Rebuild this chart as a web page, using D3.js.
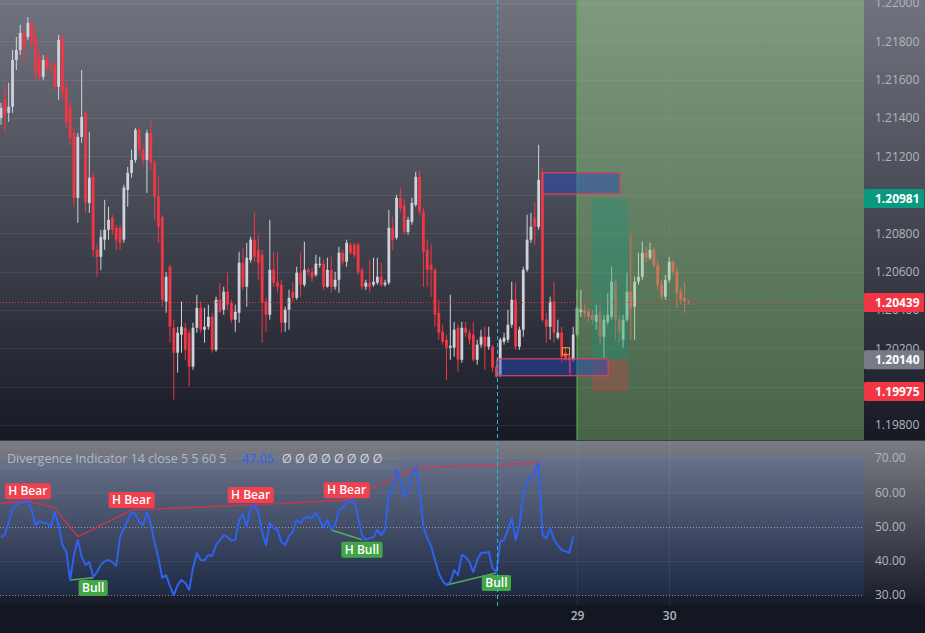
<!DOCTYPE html>
<html><head><meta charset="utf-8">
<script src="https://cdn.jsdelivr.net/npm/d3@7/dist/d3.min.js"></script>
<style>html,body{margin:0;padding:0;background:#131722;overflow:hidden}svg{display:block}</style>
</head><body><svg id="c" width="925" height="633"></svg>
<script>
// ---------- DATA ----------
const candleOpen=[1.21401,1.21495,1.21427,1.21459,1.21703,1.21755,1.21844,1.21823,1.21896,1.21823,1.21719,1.21615,1.21714,1.21667,1.21677,1.21563,1.21823,1.21558,1.21459,1.21323,1.20984,1.21302,1.21427,1.20958,1.21094,1.20713,1.20677,1.20766,1.20818,1.20880,1.20828,1.20828,1.20766,1.21026,1.21115,1.21182,1.21339,1.21235,1.21182,1.21323,1.21167,1.20990,1.20885,1.20443,1.20625,1.20307,1.20177,1.20271,1.20307,1.20281,1.20104,1.20307,1.20411,1.20297,1.20312,1.20364,1.20192,1.20453,1.20401,1.20495,1.20437,1.20349,1.20385,1.20646,1.20521,1.20661,1.20766,1.20713,1.20687,1.20443,1.20375,1.20609,1.20542,1.20531,1.20333,1.20401,1.20495,1.20463,1.20594,1.20531,1.20609,1.20599,1.20583,1.20635,1.20641,1.20521,1.20609,1.20521,1.20557,1.20698,1.20651,1.20740,1.20740,1.20740,1.20609,1.20521,1.20542,1.20531,1.20542,1.20573,1.20531,1.20542,1.20828,1.20776,1.20984,1.20948,1.20807,1.20859,1.20948,1.21094,1.20911,1.20713,1.20635,1.20609,1.20385,1.20286,1.20245,1.20203,1.20203,1.20307,1.20140,1.20307,1.20281,1.20271,1.20140,1.20219,1.20260,1.20208,1.20208,1.20104,1.20062,1.20234,1.20245,1.20323,1.20453,1.20208,1.20297,1.20609,1.20766,1.20880,1.20833,1.21115,1.20349,1.20312,1.20443,1.20255,1.20281,1.20177,1.20156,1.20140,1.20271,1.20390,1.20401,1.20390,1.20375,1.20338,1.20385,1.20260,1.20338,1.20364,1.20547,1.20349,1.20245,1.20349,1.20495,1.20417,1.20547,1.20573,1.20698,1.20672,1.20713,1.20635,1.20531,1.20469,1.20557,1.20651,1.20599,1.20495,1.20463,1.20443];
const candleHigh=[1.21479,1.21573,1.21584,1.21755,1.21823,1.21886,1.21860,1.21927,1.21912,1.21860,1.21755,1.21729,1.21729,1.21693,1.21693,1.21834,1.21834,1.21589,1.21495,1.21349,1.21323,1.21651,1.21443,1.21328,1.21120,1.20740,1.20818,1.20974,1.20938,1.20896,1.20844,1.20844,1.21052,1.21146,1.21235,1.21349,1.21354,1.21261,1.21339,1.21391,1.21182,1.21094,1.20896,1.20599,1.20635,1.20349,1.20312,1.20443,1.20333,1.20297,1.20333,1.20479,1.20443,1.20411,1.20427,1.20385,1.20469,1.20542,1.20521,1.20594,1.20453,1.20427,1.20703,1.20724,1.20750,1.20781,1.20906,1.20792,1.20713,1.20463,1.20870,1.20703,1.20698,1.20557,1.20417,1.20505,1.20542,1.20625,1.20698,1.20755,1.20620,1.20620,1.20687,1.20677,1.20661,1.20672,1.20677,1.20599,1.20729,1.20713,1.20766,1.20750,1.20750,1.20750,1.20620,1.20557,1.20661,1.20672,1.20672,1.20646,1.20557,1.20922,1.20885,1.21000,1.21037,1.20974,1.20885,1.20984,1.21120,1.21130,1.20932,1.20766,1.20740,1.20620,1.20453,1.20323,1.20271,1.20479,1.20338,1.20323,1.20338,1.20338,1.20297,1.20338,1.20245,1.20297,1.20312,1.20312,1.20219,1.20140,1.20255,1.20281,1.20401,1.20547,1.20542,1.20312,1.20625,1.20896,1.20906,1.20964,1.21261,1.21141,1.20385,1.20469,1.20547,1.20349,1.20312,1.20203,1.20166,1.20312,1.20505,1.20505,1.20427,1.20411,1.20401,1.20427,1.20427,1.20375,1.20489,1.20625,1.20557,1.20375,1.20375,1.20594,1.20792,1.20573,1.20698,1.20755,1.20729,1.20750,1.20729,1.20661,1.20557,1.20583,1.20677,1.20661,1.20620,1.20516,1.20542,1.20453];
const candleLow=[1.21365,1.21323,1.21380,1.21427,1.21651,1.21729,1.21688,1.21808,1.21755,1.21599,1.21599,1.21599,1.21641,1.21641,1.21547,1.21495,1.21495,1.21349,1.21261,1.20938,1.20854,1.21271,1.20906,1.20906,1.20677,1.20573,1.20609,1.20713,1.20766,1.20792,1.20713,1.20713,1.20750,1.20938,1.21089,1.21167,1.21208,1.21156,1.21010,1.21130,1.20870,1.20750,1.20417,1.20385,1.20229,1.19932,1.20073,1.20177,1.20140,1.20000,1.20088,1.20281,1.20281,1.20229,1.20297,1.20177,1.20182,1.20385,1.20375,1.20401,1.20333,1.20286,1.20333,1.20505,1.20417,1.20646,1.20651,1.20557,1.20229,1.20286,1.20349,1.20521,1.20489,1.20281,1.20286,1.20297,1.20443,1.20453,1.20469,1.20521,1.20578,1.20547,1.20573,1.20620,1.20505,1.20516,1.20489,1.20505,1.20489,1.20635,1.20625,1.20687,1.20672,1.20583,1.20505,1.20505,1.20495,1.20521,1.20531,1.20521,1.20521,1.20531,1.20713,1.20766,1.20911,1.20792,1.20792,1.20844,1.20938,1.20896,1.20521,1.20521,1.20469,1.20312,1.20245,1.20219,1.20036,1.20140,1.20156,1.20078,1.20125,1.20260,1.20219,1.20130,1.20114,1.20203,1.20088,1.20192,1.20078,1.20047,1.20052,1.20219,1.20229,1.20307,1.20192,1.20192,1.20260,1.20599,1.20750,1.20740,1.20818,1.20338,1.20229,1.20245,1.20229,1.20245,1.20125,1.20130,1.20073,1.20130,1.20260,1.20364,1.20359,1.20338,1.20323,1.20297,1.20219,1.20151,1.20323,1.20349,1.20245,1.20229,1.20203,1.20338,1.20245,1.20245,1.20531,1.20557,1.20646,1.20661,1.20620,1.20505,1.20453,1.20453,1.20542,1.20583,1.20411,1.20427,1.20385,1.20427];
const candleClose=[1.21453,1.21417,1.21459,1.21703,1.21755,1.21844,1.21771,1.21896,1.21792,1.21636,1.21615,1.21703,1.21662,1.21666,1.21563,1.21808,1.21531,1.21380,1.21297,1.20984,1.21302,1.21406,1.20958,1.21089,1.20713,1.20677,1.20781,1.20818,1.20870,1.20818,1.20766,1.20750,1.21037,1.21115,1.21182,1.21339,1.21235,1.21182,1.21323,1.21167,1.20990,1.20833,1.20453,1.20573,1.20312,1.20177,1.20281,1.20312,1.20192,1.20104,1.20307,1.20411,1.20297,1.20312,1.20364,1.20192,1.20453,1.20390,1.20495,1.20427,1.20349,1.20390,1.20646,1.20521,1.20672,1.20766,1.20677,1.20646,1.20437,1.20375,1.20609,1.20542,1.20521,1.20333,1.20401,1.20463,1.20463,1.20594,1.20531,1.20609,1.20599,1.20568,1.20641,1.20641,1.20521,1.20609,1.20521,1.20557,1.20698,1.20651,1.20750,1.20698,1.20687,1.20599,1.20521,1.20542,1.20521,1.20547,1.20573,1.20531,1.20542,1.20828,1.20766,1.20984,1.20932,1.20807,1.20870,1.20958,1.21094,1.20911,1.20703,1.20609,1.20609,1.20375,1.20281,1.20234,1.20203,1.20213,1.20297,1.20140,1.20307,1.20281,1.20245,1.20140,1.20219,1.20260,1.20208,1.20260,1.20099,1.20052,1.20245,1.20255,1.20323,1.20453,1.20208,1.20297,1.20609,1.20766,1.20833,1.20833,1.21078,1.20349,1.20312,1.20443,1.20281,1.20281,1.20156,1.20140,1.20140,1.20271,1.20411,1.20401,1.20385,1.20364,1.20349,1.20375,1.20260,1.20349,1.20375,1.20547,1.20349,1.20286,1.20349,1.20495,1.20411,1.20547,1.20573,1.20698,1.20672,1.20713,1.20635,1.20531,1.20469,1.20557,1.20651,1.20599,1.20489,1.20453,1.20443,1.20439];
const rsiValues=[46.9,47.5,51.3,55.1,56.3,56.9,56.9,57.7,54.8,50.4,51.6,51.0,51.0,49.9,54.2,50.4,44.6,42.6,34.4,41.7,46.1,41.1,38.8,39.6,35.3,36.7,38.8,39.9,40.2,39.6,38.5,46.9,49.6,51.9,54.2,53.6,51.3,50.4,54.2,50.7,45.2,40.8,35.0,35.8,32.6,30.0,32.9,34.4,33.5,31.5,37.9,42.3,40.2,40.2,41.7,41.4,44.6,46.1,47.5,46.9,45.8,46.1,51.9,53.6,49.9,55.7,56.0,54.2,48.4,44.6,51.0,49.6,49.0,45.5,44.6,47.2,48.4,51.9,51.0,52.5,52.8,52.5,53.9,51.9,49.6,51.9,49.0,50.4,54.8,55.4,57.4,57.2,57.7,52.5,47.5,46.1,46.6,46.9,49.0,47.5,49.0,59.2,60.9,66.5,63.6,58.6,60.7,65.0,67.1,60.7,49.9,46.6,44.3,40.2,36.4,34.1,32.9,33.8,37.3,35.8,41.7,41.1,39.6,36.7,40.2,42.3,42.3,42.6,37.9,36.7,45.5,46.1,49.0,52.5,46.1,50.4,59.8,62.7,64.5,65.9,68.5,47.5,46.6,49.6,46.1,44.6,43.1,42.8,42.3,47.05];
const priceTicks=[1.198,1.200,1.202,1.204,1.206,1.208,1.210,1.212,1.214,1.216,1.218,1.220];
const rsiTicks=[30,40,50,60,70];
const rsiDotted=[50,30];
const timeTickIndex=[150,174];
const timeTickLabels=["29","30"];
const bearPivots=[[-3,56.6],[7,57.4],[14,55.4],[20,47.0],[34,54.8],[65,56.3],[90,57.7],[108,67.1],[140,68.5]];
const bullLines=[[[18,34.4],[24,35.0]],[[86,49.0],[94,46.1]],[[116,32.9],[129,36.4]]];
const divLabels=[{i:7,v:57.4,t:"H Bear",k:"bear"},{i:34,v:54.8,t:"H Bear",k:"bear"},{i:65,v:56.3,t:"H Bear",k:"bear"},{i:90,v:57.7,t:"H Bear",k:"bear"},{i:24,v:35.0,t:"Bull",k:"bull"},{i:94,v:46.1,t:"H Bull",k:"bull"},{i:129,v:36.4,t:"Bull",k:"bull"}];
const orderBlocks=[{from:141.1,to:161.2,top:1.21115,bottom:1.21005},{from:129.2,to:158.1,top:1.20145,bottom:1.20057,split:148.2}];
const positionTool={from:153.9,to:163.3,target:1.20981,entry:1.20140,stop:1.19975};
const zoneStartIndex=150;
const cursorIndex=129.2;
const lastPrice=1.20439;
const priceMarkers=[1.20981,1.20439,1.20140,1.19975];
const markerKinds=["tp","last","entry","sl"];
const legendTitle="Divergence Indicator 14 close 5 5 60 5";
const legendValue="47.05";
const legendEmpty="Ø Ø Ø Ø Ø Ø Ø Ø";

// ---------- STYLE / LAYOUT ----------
const W=925,H=633,plotR=864,mainBot=440,indTop=441,indBot=605;
const C={up:"#cfd2da",down:"#f23645",tp:"#089981",last:"#f23645",entry:"#787b86",sl:"#f23645",axisText:"#b2b5be",rsi:"#2f62f0"};
const FONT="'Open Sans','Noto Sans',Roboto,sans-serif";

const svg=d3.select("#c");
const defs=svg.append("defs");
function grad(id,y1,y2,stops){const g=defs.append("linearGradient").attr("id",id).attr("gradientUnits","userSpaceOnUse").attr("x1",0).attr("x2",0).attr("y1",y1).attr("y2",y2);stops.forEach(s=>g.append("stop").attr("offset",s[0]).attr("stop-color",s[1]));}
grad("gMain",0,mainBot,[[0,"#71747e"],[1,"#171a24"]]);
grad("gInd",indTop,indBot,[[0,"#7a7c84"],[1,"#181c28"]]);
defs.append("clipPath").attr("id","clipMain").append("rect").attr("x",0).attr("y",0).attr("width",plotR).attr("height",mainBot);
defs.append("clipPath").attr("id","clipInd").append("rect").attr("x",0).attr("y",indTop).attr("width",plotR).attr("height",indBot-indTop);

svg.append("rect").attr("width",W).attr("height",H).attr("fill","#131722");
svg.append("rect").attr("x",0).attr("y",0).attr("width",W).attr("height",mainBot).attr("fill","url(#gMain)");
svg.append("rect").attr("x",0).attr("y",indTop).attr("width",W).attr("height",indBot-indTop).attr("fill","url(#gInd)");
svg.append("line").attr("x1",0).attr("x2",W).attr("y1",mainBot+0.5).attr("y2",mainBot+0.5).attr("stroke","#3a3e4a");

// scales
const x=d3.scaleLinear().domain([0,179]).range([1,688.4]);
const y=d3.scaleLinear().domain([1.198,1.22]).range([425,3]);
const yr=d3.scaleLinear().domain([30,70]).range([595,458]);
const candles=candleOpen.map((o,i)=>({i,o,h:candleHigh[i],l:candleLow[i],c:candleClose[i]}));

// ---------- MAIN PANE ----------
const main=svg.append("g").attr("clip-path","url(#clipMain)");
main.selectAll("line.gh").data(priceTicks).join("line").attr("x1",0).attr("x2",plotR)
  .attr("y1",d=>Math.round(y(d))+0.5).attr("y2",d=>Math.round(y(d))+0.5).attr("stroke","rgba(240,243,250,0.08)");
main.selectAll("line.gv").data(timeTickIndex).join("line").attr("y1",0).attr("y2",mainBot)
  .attr("x1",d=>Math.round(x(d))+0.5).attr("x2",d=>Math.round(x(d))+0.5).attr("stroke","rgba(240,243,250,0.06)");

const cg=main.append("g");
cg.selectAll("line.w").data(candles).join("line")
  .attr("x1",d=>x(d.i)).attr("x2",d=>x(d.i)).attr("y1",d=>y(d.h)).attr("y2",d=>y(d.l))
  .attr("stroke",d=>d.c>=d.o?C.up:C.down).attr("stroke-width",1);
cg.selectAll("rect.b").data(candles).join("rect")
  .attr("x",d=>x(d.i)-1.4).attr("width",2.8)
  .attr("y",d=>y(Math.max(d.o,d.c))).attr("height",d=>Math.max(1,Math.abs(y(d.o)-y(d.c))))
  .attr("fill",d=>d.c>=d.o?C.up:C.down);

// green zone
main.append("rect").attr("x",x(zoneStartIndex)).attr("y",0).attr("width",plotR-x(zoneStartIndex)).attr("height",mainBot)
  .attr("fill","rgba(146,212,128,0.40)");
main.append("line").attr("x1",x(zoneStartIndex)).attr("x2",x(zoneStartIndex)).attr("y1",0).attr("y2",mainBot)
  .attr("stroke","#4caf50").attr("stroke-width",1.2);

// position tool
main.append("rect").attr("x",x(positionTool.from)).attr("width",x(positionTool.to)-x(positionTool.from))
  .attr("y",y(positionTool.target)).attr("height",y(positionTool.entry)-y(positionTool.target)).attr("fill","rgba(8,153,129,0.28)");
main.append("rect").attr("x",x(positionTool.from)).attr("width",x(positionTool.to)-x(positionTool.from))
  .attr("y",y(positionTool.entry)).attr("height",y(positionTool.stop)-y(positionTool.entry)).attr("fill","rgba(242,54,69,0.28)");

// order blocks
orderBlocks.forEach(b=>{
  main.append("rect").attr("x",x(b.from)).attr("width",x(b.to)-x(b.from)).attr("y",y(b.top)).attr("height",y(b.bottom)-y(b.top))
    .attr("fill","rgba(35,70,190,0.45)").attr("stroke","#e0405e").attr("stroke-width",1.2);
  if(b.split!==undefined) main.append("line").attr("x1",x(b.split)).attr("x2",x(b.split)).attr("y1",y(b.top)).attr("y2",y(b.bottom))
    .attr("stroke","#e0405e").attr("stroke-width",1);
});
// small replay marker
main.append("rect").attr("x",x(147)-3).attr("y",y(1.20203)).attr("width",7).attr("height",y(1.20166)-y(1.20203))
  .attr("fill","none").attr("stroke","#f5a623").attr("stroke-width",1);

// last price line
main.append("line").attr("x1",0).attr("x2",plotR).attr("y1",Math.round(y(lastPrice))+0.5).attr("y2",Math.round(y(lastPrice))+0.5)
  .attr("stroke","#f23645").attr("stroke-dasharray","1,2").attr("opacity",0.9);

// ---------- INDICATOR PANE ----------
const ind=svg.append("g").attr("clip-path","url(#clipInd)");
ind.append("rect").attr("x",0).attr("width",plotR).attr("y",yr(70)).attr("height",yr(30)-yr(70)).attr("fill","rgba(40,100,230,0.13)");
ind.append("rect").attr("x",0).attr("width",400).attr("y",indTop+3).attr("height",26).attr("fill","rgba(125,128,138,0.25)");
ind.selectAll("line.gr").data(rsiTicks.filter(t=>!rsiDotted.includes(t))).join("line").attr("x1",0).attr("x2",plotR)
  .attr("y1",d=>Math.round(yr(d))+0.5).attr("y2",d=>Math.round(yr(d))+0.5).attr("stroke","rgba(240,243,250,0.06)");
ind.selectAll("line.gv").data(timeTickIndex).join("line").attr("y1",indTop).attr("y2",indBot)
  .attr("x1",d=>Math.round(x(d))+0.5).attr("x2",d=>Math.round(x(d))+0.5).attr("stroke","rgba(240,243,250,0.07)");
ind.selectAll("line.band").data(rsiDotted).join("line").attr("x1",0).attr("x2",plotR)
  .attr("y1",d=>Math.round(yr(d))+0.5).attr("y2",d=>Math.round(yr(d))+0.5)
  .attr("stroke","rgba(220,224,235,0.55)").attr("stroke-dasharray","1,2");

const rl=d3.line().x(d=>x(d[0])).y(d=>yr(d[1]));
ind.append("path").attr("d",rl(bearPivots)).attr("fill","none").attr("stroke","rgba(220,50,75,0.75)").attr("stroke-width",1.6);
bullLines.forEach(l=>ind.append("path").attr("d",rl(l)).attr("fill","none").attr("stroke","rgba(90,190,95,0.85)").attr("stroke-width",1.6));
ind.append("path").attr("d",d3.line().x((d,i)=>x(i)).y(d=>yr(d))(rsiValues)).attr("fill","none")
  .attr("stroke",C.rsi).attr("stroke-width",2).attr("stroke-linejoin","round");

// divergence labels
const lg=svg.append("g");
divLabels.forEach(d=>{
  const cx=x(d.i), py=yr(d.v);
  const t=lg.append("text").text(d.t).attr("font-family",FONT).attr("font-size",12).attr("font-weight",600).attr("fill","#fff").attr("text-anchor","middle");
  const w=t.node().getComputedTextLength()+7;
  const top=d.k==="bear"?py-18:py+2;
  lg.insert("rect","text").attr("x",cx-w/2).attr("y",top).attr("width",w).attr("height",16).attr("rx",2)
    .attr("fill",d.k==="bear"?"#f0414e":"#43a547");
  t.attr("x",cx).attr("y",top+12.3);
});
lg.selectAll("text").raise();

// legend
const legAttrs=t=>t.attr("y",463).attr("font-family",FONT).attr("font-size",12.5);
legAttrs(svg.append("text").attr("x",7).text(legendTitle).attr("fill","rgba(205,208,216,0.75)"));
legAttrs(svg.append("text").attr("x",242).text(legendValue).attr("fill","#2962ff"));
legAttrs(svg.append("text").attr("x",282).text(legendEmpty).attr("fill","rgba(230,233,240,0.85)").attr("font-size",13));

// cursor line
svg.append("line").attr("x1",Math.round(x(cursorIndex))+0.5).attr("x2",Math.round(x(cursorIndex))+0.5).attr("y1",0).attr("y2",608)
  .attr("stroke","#2ab8cc").attr("stroke-dasharray","4,3").attr("stroke-width",1);

// ---------- AXES ----------
const pa=svg.append("g").attr("transform",`translate(${plotR+11},0)`)
  .call(d3.axisRight(y).tickValues(priceTicks).tickFormat(d3.format(".5f")).tickSize(0).tickPadding(0));
const ra=svg.append("g").attr("transform",`translate(${plotR+11},0)`)
  .call(d3.axisRight(yr).tickValues(rsiTicks).tickFormat(d3.format(".2f")).tickSize(0).tickPadding(0));
const ta=svg.append("g").attr("transform",`translate(0,${indBot+4})`)
  .call(d3.axisBottom(x).tickValues(timeTickIndex).tickFormat((d,i)=>timeTickLabels[i]).tickSize(0).tickPadding(0));
[pa,ra,ta].forEach(a=>{a.select(".domain").remove();a.selectAll("text").attr("font-family",FONT).attr("font-size",12).attr("fill",C.axisText);});
ta.selectAll("text").attr("font-weight",600).attr("dy","0.9em");

// price markers on axis
priceMarkers.forEach((v,i)=>{
  const cy=y(v);
  svg.append("rect").attr("x",plotR).attr("y",cy-9.5).attr("width",W-plotR-1).attr("height",19).attr("rx",1.5).attr("fill",C[markerKinds[i]]);
  svg.append("text").attr("x",plotR+11).attr("y",cy).attr("dy","0.35em").text(d3.format(".5f")(v))
    .attr("font-family",FONT).attr("font-size",12).attr("font-weight",700).attr("fill","#fff");
});
</script></body></html>
